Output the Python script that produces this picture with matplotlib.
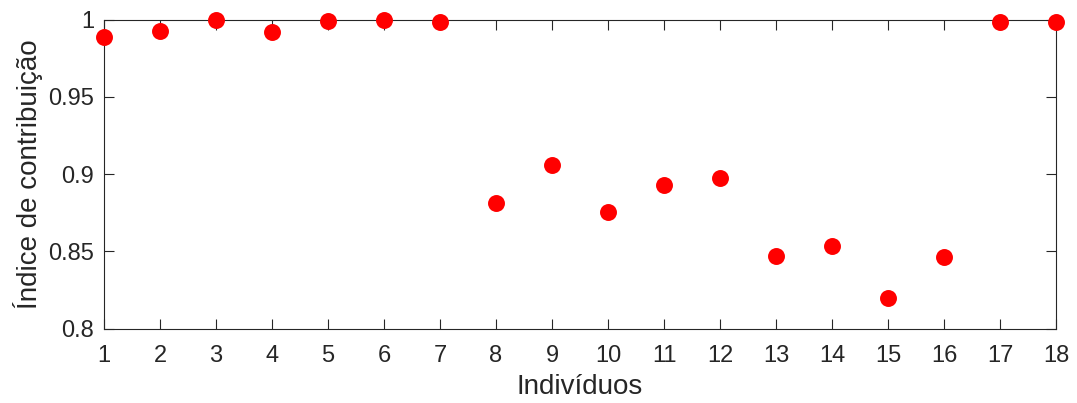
import matplotlib
matplotlib.use("Agg")
import matplotlib.pyplot as plt
from matplotlib.ticker import FuncFormatter

individuos = list(range(1, 19))
indice = [0.9886, 0.9927, 1.0000, 0.9920, 0.9992, 0.9996, 0.9985, 0.8814, 0.9061,
          0.8755, 0.8933, 0.8973, 0.8471, 0.8535, 0.8199, 0.8464, 0.9983, 0.9987]
yticks = [0.8, 0.85, 0.9, 0.95, 1.0]

plt.rcParams['font.family'] = ['Liberation Sans', 'DejaVu Sans']

fig = plt.figure(figsize=(10.77, 4.03), dpi=100)
ax = fig.add_axes([0.0966, 0.1844, 0.8839, 0.7666])
ax.plot(individuos, indice, 'o', color='#ff0000', markersize=12.2,
        clip_on=False, zorder=5, markeredgewidth=0)

ax.set_xlim(1, 18)
ax.set_ylim(0.8, 1.0)
ax.set_xticks(individuos)
ax.set_yticks(yticks)
ax.yaxis.set_major_formatter(FuncFormatter(lambda v, p: f"{v:g}"))

gray = '#262626'
for s in ax.spines.values():
    s.set_color(gray)
    s.set_linewidth(0.8)
ax.tick_params(direction='in', length=7, width=0.8, colors=gray, labelsize=17,
               top=True, right=True)
ax.tick_params(axis='x', pad=11.5)
ax.tick_params(axis='y', pad=7)
for lab in ax.get_xticklabels() + ax.get_yticklabels():
    lab.set_color(gray)

ax.set_xlabel('Indivíduos', fontsize=20, color=gray, labelpad=5)
ax.set_ylabel('Índice de contribuição', fontsize=20, color=gray, labelpad=4)

fig.savefig('out.png', dpi=100)
